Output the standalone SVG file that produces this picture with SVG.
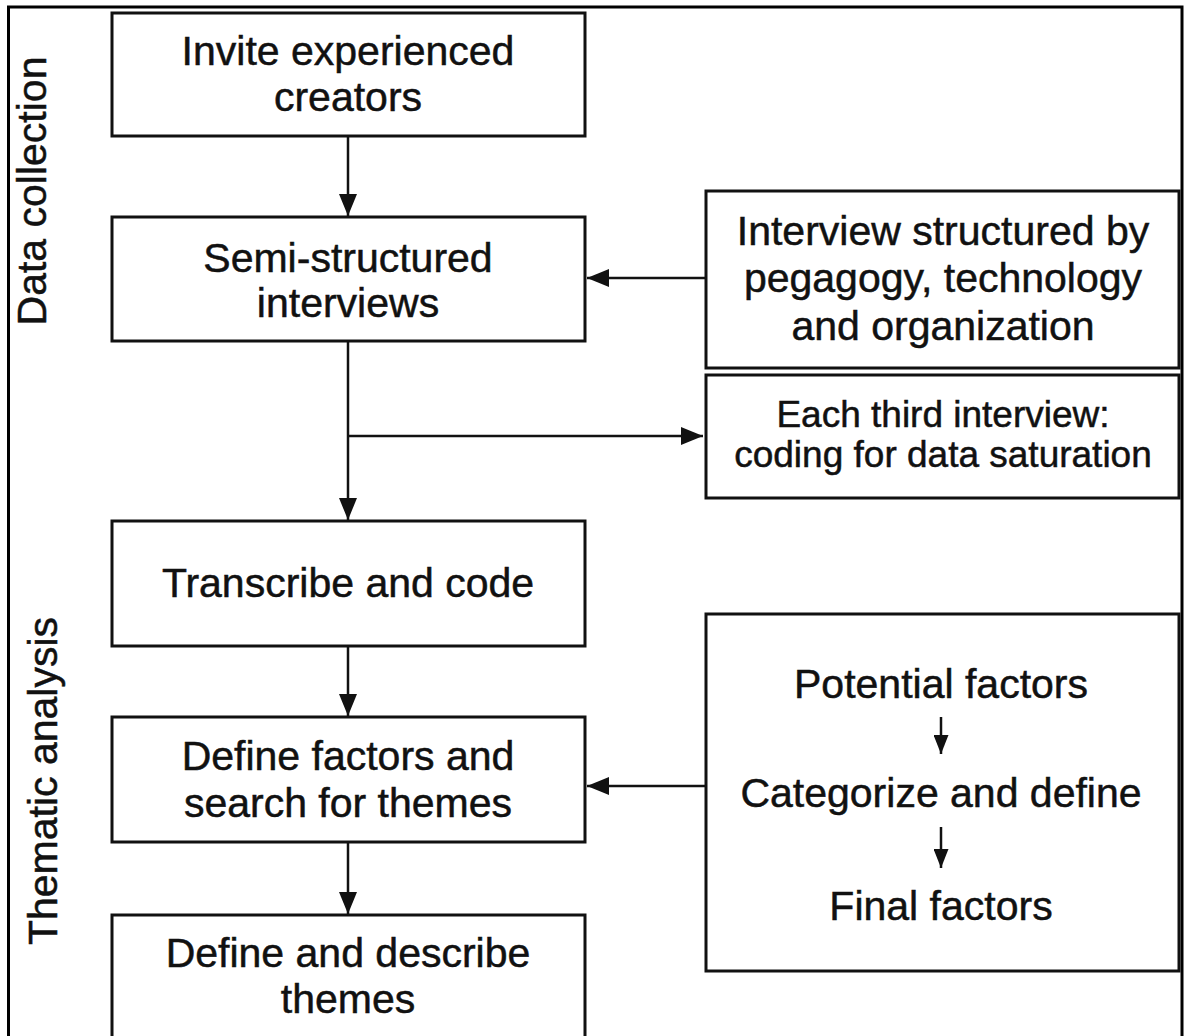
<svg xmlns="http://www.w3.org/2000/svg" width="1184" height="1036" viewBox="0 0 1184 1036">
<style>
  .box { fill: #fff; stroke: #111; stroke-width: 3; }
  .frame { fill: none; stroke: #000; stroke-width: 3; }
  .t { font-family: "Liberation Sans", Arial, Helvetica, sans-serif; font-size: 41px; fill: #111; stroke: #111; stroke-width: 0.5; text-anchor: middle; }
  .ts { font-size: 37px; }
  .conn { fill: none; stroke: #111; stroke-width: 2.5; }
</style>
<defs>
  <marker id="ah" markerUnits="userSpaceOnUse" markerWidth="22" markerHeight="18" refX="22" refY="9" orient="auto" viewBox="0 0 22 18">
    <path d="M0,0 L22,9 L0,18 Z" fill="#111"/>
  </marker>
  <marker id="ahs" markerUnits="userSpaceOnUse" markerWidth="19" markerHeight="15" refX="19" refY="7.5" orient="auto" viewBox="0 0 19 15">
    <path d="M0,0 L19,7.5 L0,15 Z" fill="#111"/>
  </marker>
</defs>
<rect width="1184" height="1036" fill="#fff"/>
<path class="frame" d="M8.5,1040 L8.5,7 L1182,7 L1182,1040"/>

<text class="t" transform="translate(46,191) rotate(-90)" id="label-data">Data collection</text>
<text class="t" transform="translate(57,781) rotate(-90)" id="label-thematic">Thematic analysis</text>

<g id="connectors">
  <line class="conn" x1="348" y1="136" x2="348" y2="216" marker-end="url(#ah)"/>
  <line class="conn" x1="348" y1="341" x2="348" y2="520" marker-end="url(#ah)"/>
  <line class="conn" x1="348" y1="436" x2="703" y2="436" marker-end="url(#ah)"/>
  <line class="conn" x1="706" y1="278" x2="587" y2="278" marker-end="url(#ah)"/>
  <line class="conn" x1="348" y1="646" x2="348" y2="716" marker-end="url(#ah)"/>
  <line class="conn" x1="348" y1="842" x2="348" y2="914" marker-end="url(#ah)"/>
  <line class="conn" x1="706" y1="786" x2="587" y2="786" marker-end="url(#ah)"/>
</g>

<g id="n1">
  <rect class="box" x="112" y="13" width="473" height="123"/>
  <text class="t" x="348" y="65">Invite experienced</text>
  <text class="t" x="348" y="111">creators</text>
</g>
<g id="n2">
  <rect class="box" x="112" y="217" width="473" height="124"/>
  <text class="t" x="348" y="272">Semi-structured</text>
  <text class="t" x="348" y="317">interviews</text>
</g>
<g id="n3">
  <rect class="box" x="112" y="521" width="473" height="125"/>
  <text class="t" x="348" y="597">Transcribe and code</text>
</g>
<g id="n4">
  <rect class="box" x="112" y="717" width="473" height="125"/>
  <text class="t" x="348" y="770">Define factors and</text>
  <text class="t" x="348" y="817">search for themes</text>
</g>
<g id="n5">
  <rect class="box" x="112" y="915" width="473" height="140"/>
  <text class="t" x="348" y="967">Define and describe</text>
  <text class="t" x="348" y="1013">themes</text>
</g>
<g id="r1">
  <rect class="box" x="706" y="191" width="473" height="177"/>
  <text class="t" x="943" y="245">Interview structured by</text>
  <text class="t" x="943" y="292">pegagogy, technology</text>
  <text class="t" x="943" y="340">and organization</text>
</g>
<g id="r2">
  <rect class="box" x="706" y="375" width="473" height="123"/>
  <text class="t ts" x="943" y="427">Each third interview:</text>
  <text class="t ts" x="943" y="467">coding for data saturation</text>
</g>
<g id="r3">
  <rect class="box" x="706" y="614" width="473" height="357"/>
  <text class="t" x="941" y="698">Potential factors</text>
  <line class="conn" x1="941" y1="717" x2="941" y2="754" marker-end="url(#ahs)"/>
  <text class="t" x="941" y="807">Categorize and define</text>
  <line class="conn" x1="941" y1="827" x2="941" y2="868" marker-end="url(#ahs)"/>
  <text class="t" x="941" y="920">Final factors</text>
</g>
</svg>
